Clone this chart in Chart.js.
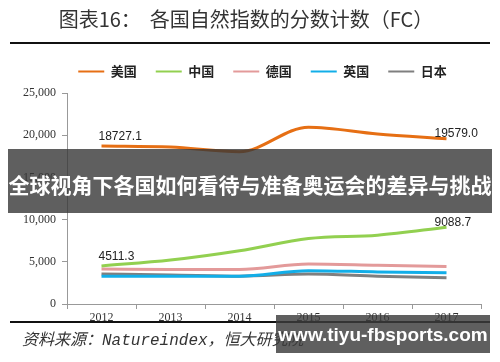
<!DOCTYPE html>
<html>
<head>
<meta charset="utf-8">
<script src="https://cdn.jsdelivr.net/npm/chart.js@4"></script>
<style>
  html, body { margin: 0; padding: 0; background: #fff; }
  #wrap { position: relative; width: 500px; height: 362px; }
</style>
</head>
<body>
<div id="wrap"><canvas id="chart" width="500" height="362"></canvas></div>
<script>
const years = ['2012', '2013', '2014', '2015', '2016', '2017'];
const usa = [18727.1, 18600, 18050, 20950, 20150, 19579.0];
const china = [4511.3, 5200, 6300, 7750, 8150, 9088.7];
const germany = [4150, 4100, 4100, 4750, 4600, 4450];
const uk = [3300, 3280, 3300, 3950, 3800, 3700];
const japan = [3550, 3450, 3300, 3550, 3300, 3100];
const seriesNames = ['美国', '中国', '德国', '英国', '日本'];
const colors = ['#e66f14', '#92d050', '#e39a9a', '#12aee8', '#7f7f7f'];
const labelled = [0, 1]; // series with end labels

const serif = "'Liberation Serif', 'DejaVu Serif', serif";
const sans = "'Liberation Sans', Arial, sans-serif";
const cjk = "'Noto Sans CJK SC', sans-serif";

// legend sits a bit right of centre and has some room under it
const legendTweak = {
  id: 'legendTweak',
  beforeInit(chart) {
    const fit = chart.legend.fit;
    chart.legend.fit = function () {
      fit.bind(chart.legend)();
      this.height += 5;
    };
  },
  afterLayout(chart) {
    chart.legend.left += 17;
    chart.legend.right += 17;
  }
};

const extras = {
  id: 'extras',
  afterDatasetsDraw(chart) {
    const c = chart.ctx;
    // end labels
    c.save();
    c.font = '12px ' + sans;
    c.fillStyle = '#222';
    c.textAlign = 'left';
    c.textBaseline = 'bottom';
    labelled.forEach(i => {
      const meta = chart.getDatasetMeta(i);
      const d = chart.data.datasets[i].data;
      const first = meta.data[0], last = meta.data[d.length - 1];
      c.fillText(d[0].toFixed(1), first.x - 3, first.y - 3);
      c.fillText(d[d.length - 1].toFixed(1), last.x - 12, last.y + 1);
    });
    c.restore();
  },
  afterDraw(chart) {
    const c = chart.ctx;
    c.save();
    // title
    c.fillStyle = '#333';
    c.font = '20px ' + cjk;
    c.textAlign = 'center';
    c.textBaseline = 'middle';
    c.fillText('图表16：  各国自然指数的分数计数（FC）', 246, 19);
    // rules
    c.fillStyle = '#111';
    c.fillRect(10, 42, 480, 2);
    c.fillRect(10, 321, 480, 2);
    // source
    c.fillStyle = '#333';
    c.font = "italic 16px 'Liberation Mono', 'Noto Sans CJK SC', monospace";
    c.textAlign = 'left';
    c.textBaseline = 'middle';
    c.fillText('资料来源：Natureindex，恒大研究院', 22, 341);
    // banner
    c.fillStyle = 'rgba(55,55,55,0.8)';
    c.fillRect(8, 149, 484, 64);
    c.fillStyle = '#fff';
    c.font = 'bold 21px ' + cjk;
    c.textAlign = 'center';
    c.fillText('全球视角下各国如何看待与准备奥运会的差异与挑战', 250, 185);
    // watermark
    c.fillStyle = 'rgba(60,60,60,0.82)';
    c.fillRect(276, 315, 214, 38);
    c.fillStyle = '#fff';
    c.font = 'bold 19px ' + sans;
    c.fillText('www.tiyu-fbsports.com', 383, 336);
    c.restore();
  }
};

new Chart(document.getElementById('chart'), {
  type: 'line',
  data: {
    labels: years,
    datasets: [usa, china, germany, uk, japan].map((d, i) => ({
      label: seriesNames[i],
      data: d,
      borderColor: colors[i],
      backgroundColor: colors[i],
      borderWidth: 3,
      pointRadius: 0,
      tension: 0.4,
      cubicInterpolationMode: 'monotone',
      fill: false
    }))
  },
  options: {
    responsive: false,
    animation: false,
    layout: { padding: { top: 46, left: 10, right: 19, bottom: 38 } },
    plugins: {
      tooltip: { enabled: false },
      legend: {
        labels: {
          font: { size: 13, family: cjk, weight: 'bold' },
          color: '#222',
          boxWidth: 26,
          boxHeight: 2,
          padding: 19,
          generateLabels(chart) {
            return Chart.defaults.plugins.legend.labels.generateLabels(chart)
              .map(l => Object.assign(l, { lineWidth: 0 }));
          }
        }
      }
    },
    scales: {
      x: {
        offset: true,
        grid: { offset: true, drawOnChartArea: false, tickLength: 5, color: '#999' },
        border: { color: '#999' },
        ticks: { font: { size: 12, family: serif }, color: '#333', padding: 2 },
        afterFit(s) { s.height = 20; }
      },
      y: {
        min: 0,
        max: 25000,
        grid: { drawOnChartArea: false, tickLength: 5, color: '#999' },
        border: { color: '#999' },
        ticks: {
          stepSize: 5000,
          font: { size: 12, family: serif },
          color: '#333',
          padding: 6,
          callback: v => v.toLocaleString('en-US')
        },
        afterFit(s) { s.width = 57; }
      }
    }
  },
  plugins: [legendTweak, extras]
});
</script>
</body>
</html>
